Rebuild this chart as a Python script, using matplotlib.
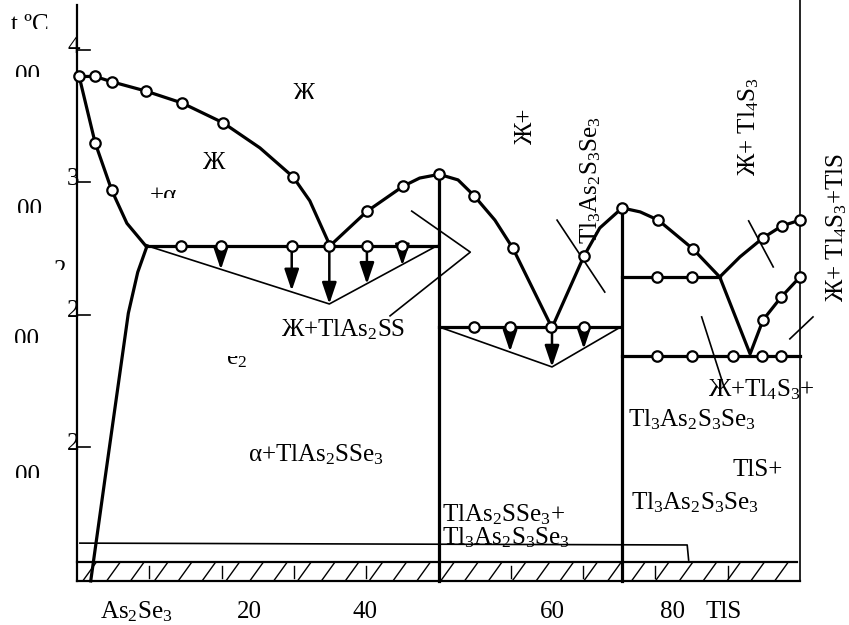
import numpy as np
import matplotlib
matplotlib.use("Agg")
import matplotlib.pyplot as plt
from matplotlib.transforms import Bbox, TransformedBbox

plt.rcParams["font.family"] = ["Liberation Serif", "DejaVu Serif"]
plt.rcParams["mathtext.fontset"] = "custom"
plt.rcParams["mathtext.rm"] = "Liberation Serif"
plt.rcParams["mathtext.it"] = "Liberation Serif:italic"

# --- data: composition (mol %) and temperature (deg C) ---
liq_left_x = [0.3, 2.5, 4.8, 9.5, 14.5, 20.2, 25.3, 29.9, 32.2, 35.0]
liq_left_T = [390, 390, 388, 384.5, 380, 372.5, 363, 352, 343, 326]
solidus_x = [0.3, 2.5, 4.8, 6.9, 9.5]
solidus_T = [390, 365, 347, 334.5, 326]
solvus_x = [9.7, 8.4, 7.1, 3.9, 1.9]
solvus_T = [326, 316, 300.5, 238.5, 199.3]
liq_mid_x = [35.0, 40.1, 45.1, 47.4, 50.1, 52.7, 54.9, 57.8, 60.3, 65.7, 70.1, 72.3, 75.4]
liq_mid_T = [326, 339, 348.5, 351.6, 353, 350.9, 345, 335.7, 325, 295, 322, 332.7, 340.3]
liq_right_x = [75.4, 77.9, 80.4, 85.2, 88.9]
liq_right_T = [340.3, 338.8, 335.7, 324.8, 314.2]
upper_branch_x = [88.9, 91.7, 94.9, 97.5, 100]
upper_branch_T = [314.2, 321.8, 329, 333.5, 335.7]
lower_branch_x = [88.9, 93.1, 94.9, 97.4, 100]
lower_branch_T = [314.2, 285.1, 298, 306.6, 314.2]

# isotherms: (T, x_start, x_end)
iso_T = [326, 295.3, 314.2, 284.3]
iso_x0 = [9.5, 50.1, 75.4, 75.4]
iso_x1 = [49.8, 75.2, 88.9, 100]

# congruent compounds (vertical lines): x, top T
compound_x = [50.1, 75.4]
compound_T = [353, 340.3]

# experimental points (circles)
pts_x = [0.3, 2.5, 4.8, 9.5, 14.5, 20.2, 29.9,
         2.5, 4.8,
         14.4, 19.9, 29.7, 34.9, 40.1, 45.0,
         40.1, 45.1, 50.1, 54.9, 60.3, 70.1, 75.4,
         54.9, 59.9, 65.6, 70.1,
         80.4, 85.2, 80.2, 85.1, 94.9, 97.5, 100, 94.9, 97.4, 100,
         80.2, 85.1, 90.7, 94.7, 97.4]
pts_T = [390, 390, 388, 384.5, 380, 372.5, 352,
         365, 347,
         326, 326, 326, 326, 326, 326,
         339, 348.5, 353, 345, 325, 322, 340.3,
         295.3, 295.3, 295.3, 295.3,
         335.7, 324.8, 314.2, 314.2, 329, 333.5, 335.7, 298, 306.6, 314.2,
         284.3, 284.3, 284.3, 284.3, 284.3]

# Tammann triangles
v1_x = [9.7, 34.9, 49.8]
v1_T = [326, 304, 326]
v2_x = [50.1, 65.7, 75.2]
v2_T = [295.3, 280.2, 295.3]
arr1_x = [19.9, 29.7, 34.9, 40.1, 45.0]
arr1_T = [317, 309, 304, 311.5, 318.5]
arr2_x = [59.9, 65.7, 70.1]
arr2_T = [286, 280.2, 287]

# leader lines
leaders = [
    ([66.4, 73.0], [335.7, 308.5]),
    ([46.3, 54.4, 43.3], [339.1, 323.6, 299.5]),
    ([92.9, 96.3], [335.4, 318.0]),
    ([98.6, 101.8], [290.8, 299.1]),
    ([86.4, 89.5], [299.1, 272.6]),
]
bracket_x = [0.4, 84.4, 84.6]
bracket_T = [213.6, 212.9, 207.2]

y_ticks = [400, 350, 300, 250]
y_tick_digits = ["4", "3", "2", "2"]
comp_ticks = [10, 20, 30, 40, 60, 70, 80, 90]
x_labels = ["As$_2$Se$_3$", "20", "40", "60", "80", "TlS"]
x_label_pos = [8.2, 23.8, 39.8, 65.7, 82.4, 89.5]

T_BOTTOM, T_BAND = 199.3, 206.5
FS = 18

fig = plt.figure(figsize=(8.49, 6.25), dpi=100)
ax = fig.add_axes([0, 0, 1, 1])
ax.set_xlim(-10.65, 106.78)
ax.set_ylim(182.65, 418.9)
ax.axis("off")

thick = dict(color="black", lw=2.3, solid_joinstyle="round")
thin = dict(color="black", lw=1.2)

for xs, ts in [(liq_left_x, liq_left_T), (solidus_x, solidus_T), (solvus_x, solvus_T),
               (liq_mid_x, liq_mid_T), (liq_right_x, liq_right_T),
               (upper_branch_x, upper_branch_T), (lower_branch_x, lower_branch_T)]:
    ax.plot(xs, ts, **thick)
for t, x0, x1 in zip(iso_T, iso_x0, iso_x1):
    ax.plot([x0, x1], [t, t], **thick)
for x, t in zip(compound_x, compound_T):
    ax.plot([x, x], [t, T_BOTTOM], **thick)

ax.plot(v1_x, v1_T, **thin)
ax.plot(v2_x, v2_T, **thin)
for xs_, ts_, top in [(arr1_x, arr1_T, iso_T[0]), (arr2_x, arr2_T, iso_T[1])]:
    for x, t in zip(xs_, ts_):
        ax.annotate("", xy=(x, t), xytext=(x, top),
                    arrowprops=dict(arrowstyle="-|>,head_length=0.65,head_width=0.22",
                                    mutation_scale=20, lw=1.8, color="black",
                                    shrinkA=0, shrinkB=0))

ax.plot(pts_x, pts_T, "o", ms=7.5, mfc="white", mec="black", mew=1.6, zorder=5)

for xs, ts in leaders:
    ax.plot(xs, ts, **thin)
ax.plot(bracket_x, bracket_T, **thin)

# axes frame
ax.plot([0, 0], [417, T_BOTTOM], color="black", lw=1.6)
ax.plot([100, 100], [418.9, T_BOTTOM], color="black", lw=1.2)
for t, d in zip(y_ticks, y_tick_digits):
    ax.plot([0, 1.8], [t, t], color="black", lw=1.2)
    ax.text(-0.5, t + 1.2, d, fontsize=FS, ha="center", va="center")

# hatched band along the composition axis
ax.plot([0, 100], [T_BOTTOM, T_BOTTOM], color="black", lw=1.6)
ax.plot([0, 99.6], [T_BAND, T_BAND], color="black", lw=1.6)
for x in np.arange(0.8, 99, 3.3):
    ax.plot([x, x + 1.9], [T_BOTTOM, T_BAND], color="black", lw=1.0)
for x in comp_ticks:
    ax.plot([x, x], [200.5, 205], color="black", lw=1.0)

for lab, x in zip(x_labels, x_label_pos):
    ax.text(x, 187.6, lab, fontsize=FS, ha="center", va="center")


def clipped(x, t_top, t_clip, s, x_half=4, **kw):
    txt = ax.text(x, t_top, s, fontsize=FS, ha="center", va="top", clip_on=True, **kw)
    lo, hi = sorted([t_top + 3, t_clip])
    box = Bbox([[x - x_half, lo], [x + x_half, hi]])
    txt.set_clip_box(TransformedBbox(box, ax.transData))
    return txt


# partially visible labels (cut off in the original scan)
clipped(-6.8, 394.5, 389.8, "00")
clipped(-6.6, 343.5, 338.4, "00")
clipped(-7.0, 294.7, 289.2, "00")
clipped(-6.8, 243.3, 238.2, "00")
clipped(-6.5, 413.5, 407.9, "t ºC", x_half=5)
clipped(31.3, 387.5, 381.3, "Ж")
clipped(11.9, 349.0, 344.1, "+α")
clipped(-2.4, 320.5, 316.8, "2", x_half=1.5)
lab = ax.text(22, 287.5, "e$_2$", fontsize=FS, ha="center", va="top", clip_on=True)
lab.set_clip_box(TransformedBbox(Bbox([[19, 278], [25, 284.5]]), ax.transData))

# region labels
ax.text(18.9, 357.3, "Ж", fontsize=FS, ha="center", va="center")
ax.text(36.8, 294.2, "Ж+TlAs$_2$SS", fontsize=FS, ha="center", va="center")
ax.text(33.1, 246.9, "α+TlAs$_2$SSe$_3$", fontsize=FS, ha="center", va="center")
ax.text(50.5, 224.3, "TlAs$_2$SSe$_3$+", fontsize=FS, ha="left", va="center")
ax.text(50.5, 215.5, "Tl$_3$As$_2$S$_3$Se$_3$", fontsize=FS, ha="left", va="center")
ax.text(94.1, 241.2, "TlS+", fontsize=FS, ha="center", va="center")
ax.text(76.6, 228.8, "Tl$_3$As$_2$S$_3$Se$_3$", fontsize=FS, ha="left", va="center")
ax.text(87.3, 271.5, "Ж+Tl$_4$S$_3$+", fontsize=FS, ha="left", va="center")
ax.text(76.2, 260.1, "Tl$_3$As$_2$S$_3$Se$_3$", fontsize=FS, ha="left", va="center")
ax.text(62.1, 370.9, "Ж+", fontsize=FS, rotation=90, ha="center", va="center")
ax.text(71.0, 350.9, "Tl$_3$As$_2$S$_3$Se$_3$", fontsize=FS, rotation=90, ha="center", va="center")
ax.text(92.9, 371.0, "Ж+ Tl$_4$S$_3$", fontsize=FS, rotation=90, ha="center", va="center")
ax.text(105.1, 332.7, "Ж+ Tl$_4$S$_3$+TlS", fontsize=FS, rotation=90, ha="center", va="center")

fig.savefig("out.png", dpi=100)
